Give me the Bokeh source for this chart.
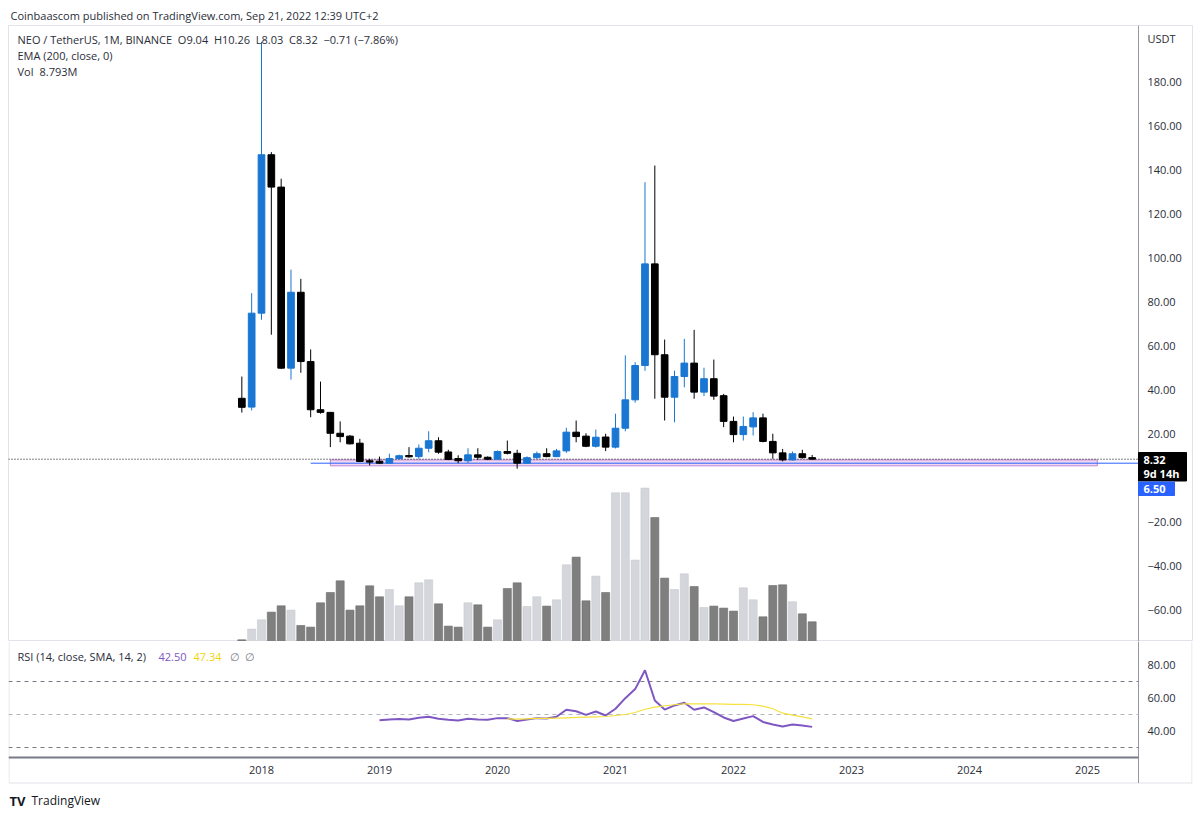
from bokeh.plotting import figure
from bokeh.layouts import column
from bokeh.models import ColumnDataSource, Range1d
from bokeh.core.properties import value
from bokeh.embed import file_html
from bokeh.resources import INLINE

# ---------------- data ----------------
MONTHS = ["2017-11", "2017-12",
          "2018-01", "2018-02", "2018-03", "2018-04", "2018-05", "2018-06",
          "2018-07", "2018-08", "2018-09", "2018-10", "2018-11", "2018-12",
          "2019-01", "2019-02", "2019-03", "2019-04", "2019-05", "2019-06",
          "2019-07", "2019-08", "2019-09", "2019-10", "2019-11", "2019-12",
          "2020-01", "2020-02", "2020-03", "2020-04", "2020-05", "2020-06",
          "2020-07", "2020-08", "2020-09", "2020-10", "2020-11", "2020-12",
          "2021-01", "2021-02", "2021-03", "2021-04", "2021-05", "2021-06",
          "2021-07", "2021-08", "2021-09", "2021-10", "2021-11", "2021-12",
          "2022-01", "2022-02", "2022-03", "2022-04", "2022-05", "2022-06",
          "2022-07", "2022-08", "2022-09"]
OPEN = [36.0, 32.0,
        74.7, 146.7, 132.0, 49.7, 84.2, 52.7, 30.8, 29.6, 20.1, 18.8, 15.6, 7.6,
        7.4, 6.5, 8.6, 10.0, 9.5, 13.3, 16.7, 11.6, 8.6, 7.6, 10.3, 9.2,
        8.3, 11.8, 11.0, 6.5, 9.0, 10.8, 9.5, 12.1, 20.6, 18.8, 14.2, 18.4,
        13.8, 22.4, 35.3, 50.9, 97.1, 55.8, 36.5, 45.9, 52.0, 38.8, 44.9, 37.2,
        25.5, 19.5, 23.0, 27.1, 16.4, 11.2, 8.0, 10.8, 9.04]
HIGH = [45.9, 83.8,
        198.0, 147.9, 135.8, 94.5, 90.3, 58.2, 43.6, 29.8, 25.5, 19.3, 17.6, 8.5,
        9.5, 10.8, 10.4, 13.8, 15.0, 21.0, 18.3, 12.6, 10.1, 13.3, 13.3, 9.6,
        12.3, 16.8, 12.6, 9.6, 11.8, 13.3, 13.0, 22.6, 25.9, 20.1, 21.8, 19.9,
        29.0, 55.5, 52.4, 134.2, 141.8, 62.7, 48.6, 63.0, 67.1, 49.9, 53.6, 38.0,
        27.7, 27.7, 29.7, 29.0, 19.9, 13.0, 11.8, 12.6, 10.26]
LOW = [29.5, 30.5,
       71.7, 64.9, 49.4, 44.5, 47.6, 27.4, 29.0, 13.8, 16.0, 15.0, 7.0, 5.5,
       6.1, 6.3, 8.2, 9.0, 8.5, 11.5, 10.8, 7.9, 6.5, 6.6, 8.0, 7.9,
       8.0, 10.5, 4.0, 6.2, 8.5, 9.2, 9.2, 11.2, 16.0, 13.8, 13.6, 12.0,
       13.2, 21.0, 34.0, 48.5, 35.8, 25.9, 25.1, 41.0, 35.8, 37.0, 35.3, 22.9,
       16.0, 16.8, 19.1, 16.0, 8.5, 7.3, 7.7, 8.6, 8.03]
CLOSE = [31.9, 74.7,
         146.7, 132.0, 49.7, 84.2, 52.7, 30.8, 29.6, 20.1, 18.6, 15.3, 7.3, 7.0,
         6.5, 8.6, 9.9, 9.4, 13.3, 16.7, 11.5, 8.2, 7.6, 10.3, 9.2, 8.3,
         11.8, 11.0, 6.5, 9.0, 10.8, 9.5, 12.1, 20.6, 18.6, 14.2, 18.3, 13.8,
         22.4, 35.3, 50.9, 97.1, 55.8, 36.5, 45.9, 52.0, 38.8, 44.9, 37.0, 25.5,
         19.5, 23.2, 27.1, 16.4, 11.2, 8.0, 10.8, 9.04, 8.32]
VOLUME_M = [0.76, 5.53,
            9.68, 13.11, 15.92, 14.00, 7.14, 6.42, 17.26, 21.85, 27.07, 14.00, 15.92, 24.84,
            19.94, 23.19, 15.92, 19.94, 26.18, 27.52, 16.81, 6.87, 6.42, 17.26, 16.37, 6.42,
            9.68, 23.64, 26.18, 15.61, 19.94, 15.79, 18.60, 34.21, 37.64, 18.15, 29.17, 21.85,
            66.32, 66.32, 36.30, 68.42, 55.30, 28.28, 23.19, 30.19, 24.53, 15.16, 15.79, 14.90,
            13.56, 23.95, 18.60, 11.02, 24.98, 25.29, 17.71, 12.35, 8.79]

RSI_START = "2019-01"
RSI = [46.5, 47.0, 47.2, 47.0, 48.0, 48.6, 47.4, 46.8, 46.3, 47.4, 47.0, 46.8,
       47.8, 47.8, 46.1, 47.0, 47.8, 47.6, 48.6, 52.9, 52.0, 49.8, 51.8, 49.4,
       53.5, 59.9, 65.4, 76.8, 58.5, 53.0, 55.5, 57.1, 52.9, 54.3, 51.4, 48.2,
       46.1, 47.6, 49.0, 45.5, 43.9, 42.7, 43.9, 43.3, 42.5]
RSI_SMA_START = "2020-02"
RSI_SMA = [47.4, 47.2, 47.4, 47.6, 47.6, 47.8, 48.0, 48.2, 48.4, 48.6, 48.8,
           49.4, 50.0, 51.2, 53.2, 54.5, 55.3, 55.9, 56.5, 56.5, 56.5, 56.5, 56.3,
           56.1, 56.1, 55.9, 55.1, 53.5, 50.8, 49.6, 48.6, 47.3]

YEARS = ["2018", "2019", "2020", "2021", "2022", "2023", "2024", "2025"]
PRICE_TICKS = [-60.0, -40.0, -20.0, 20.0, 40.0, 60.0, 80.0, 100.0, 120.0, 140.0, 160.0, 180.0]
RSI_TICKS = [40.0, 60.0, 80.0]
RSI_BANDS = [70.0, 50.0, 30.0]
LAST_PRICE = 8.32
COUNTDOWN = "9d 14h"
SUPPORT_PRICE = 6.50
SUPPORT_START = "2018-06"
ZONE_START, ZONE_END = "2018-08", "2025-02"
ZONE_LOW, ZONE_HIGH = 5.3, 8.0

# ---------------- pixel geometry of the page ----------------
FONT = "Open Sans"
TXT = "#2a2e39"
FRAME = "#e0e3eb"
SCALE_LINE = "#9598a1"
X0_PX, PX_PER_MONTH = 261.0, 9.833     # Jan 2018 centre at x=261
P0_PX, PX_PER_USD = 477.0, 2.2          # price 0 at y=477
R50_PX, PX_PER_RSI = 714.0, 1.65        # rsi 50 at y=714
SCALE_X = 1138                          # left edge of the price scale
LABEL_X = 1147                          # left edge of scale labels
GAP = "\u00a0\u00a0"


def month_index(s):
    y, m = s.split("-")
    return (int(y) - 2018) * 12 + int(m) - 1


def px_x(px):
    return (px - X0_PX) / PX_PER_MONTH


def py_price(py):
    return (P0_PX - py) / PX_PER_USD


def py_rsi(py):
    return 50 - (py - R50_PX) / PX_PER_RSI


def fmt(v):
    return f"{v:.2f}".replace("-", "\u2212")


idx = [month_index(m) for m in MONTHS]
up = [c >= o for o, c in zip(OPEN, CLOSE)]
src = ColumnDataSource(dict(
    x=idx, open=OPEN, high=HIGH, low=LOW, close=CLOSE,
    top=[max(o, c) for o, c in zip(OPEN, CLOSE)],
    bottom=[min(o, c) for o, c in zip(OPEN, CLOSE)],
    color=["#1976d2" if u else "#000000" for u in up],
    vol=VOLUME_M,
    vcolor=["#d4d6db" if u else "#7f7f7f" for u in up],
    vline=["#c8cad0" if u else "#6b6b6b" for u in up],
))

VOL_TOP = 616 / 2.242   # volume overlay: 2.242 px per million, base at pane bottom
XR = Range1d(px_x(8), px_x(1192))


def texts(p, xs, ys, labels, color=TXT, size="11px", align="left", baseline="middle", style="normal"):
    p.text(x=xs, y=ys, text=labels, text_font=value(FONT), text_font_size=size,
           text_color=color, text_align=align, text_baseline=baseline, text_font_style=style)


# ---------------- main pane ----------------
p1 = figure(width=1200, height=641, output_backend="svg", toolbar_location=None,
            x_range=XR, y_range=Range1d(py_price(641), py_price(25)),
            x_axis_location=None, y_axis_location=None,
            min_border_left=8, min_border_right=8, min_border_top=25, min_border_bottom=0,
            title="Coinbaascom published on TradingView.com, Sep 21, 2022 12:39 UTC+2")
p1.grid.visible = False
p1.title.text_font = FONT
p1.title.text_font_size = "11px"
p1.title.text_font_style = "normal"
p1.title.text_color = TXT
p1.title.align = "left"
p1.title.offset = 2
p1.title.standoff = 6
p1.outline_line_color = FRAME
p1.extra_y_ranges = {"vol": Range1d(0, VOL_TOP)}

# volume overlay
p1.vbar(x="x", width=0.82, top="vol", bottom=0, y_range_name="vol", source=src,
        fill_color="vcolor", line_color="vline", line_width=0.6)

# support zone, support ray and last-price line
p1.quad(left=month_index(ZONE_START), right=month_index(ZONE_END), bottom=ZONE_LOW, top=ZONE_HIGH,
        fill_color="#ce93d8", fill_alpha=0.35, line_color="#b36bd0", line_alpha=0.8, line_width=1)
p1.segment(x0=month_index(SUPPORT_START), y0=SUPPORT_PRICE, x1=px_x(SCALE_X), y1=SUPPORT_PRICE,
           line_color="#2962ff", line_width=1)
p1.segment(x0=px_x(8), y0=LAST_PRICE, x1=px_x(SCALE_X), y1=LAST_PRICE,
           line_color="#000000", line_dash="1 2", line_width=1)

# candles
p1.segment(x0="x", y0="low", x1="x", y1="high", line_color="color", line_width=1, source=src)
p1.vbar(x="x", width=0.68, top="top", bottom="bottom", fill_color="color", line_color="color", source=src)

# price scale
p1.segment(x0=px_x(SCALE_X), y0=py_price(641), x1=px_x(SCALE_X), y1=py_price(25),
           line_color=SCALE_LINE, line_width=1)
texts(p1, [px_x(LABEL_X)] * len(PRICE_TICKS), PRICE_TICKS, [fmt(t) for t in PRICE_TICKS])
texts(p1, [px_x(LABEL_X)], [py_price(38)], ["USDT"])

# price-scale tags (last price with countdown, support level)
p1.quad(left=px_x(SCALE_X), right=px_x(1186), top=py_price(452), bottom=py_price(480.5),
        fill_color="#000000", line_color="#000000")
texts(p1, [px_x(1143)] * 2, [py_price(459), py_price(473)], [f"{LAST_PRICE:.2f}", COUNTDOWN],
      color="white", style="bold")
p1.quad(left=px_x(SCALE_X), right=px_x(1174), top=py_price(481.5), bottom=py_price(495),
        fill_color="#2962ff", line_color="#2962ff")
texts(p1, [px_x(1143)], [py_price(488.5)], [f"{SUPPORT_PRICE:.2f}"], color="white", style="bold")

# legend of the main pane
texts(p1, [px_x(17)], [py_price(39)],
      [GAP.join(["NEO / TetherUS, 1M, BINANCE", "O9.04", "H10.26", "L8.03", "C8.32",
                 "\u22120.71 (\u22127.86%)"])])
texts(p1, [px_x(17)], [py_price(55)], ["EMA (200, close, 0)"])
texts(p1, [px_x(17), px_x(39)], [py_price(71)] * 2, ["Vol", "8.793M"])

# ---------------- RSI pane, time scale and footer ----------------
p2 = figure(width=1200, height=175, output_backend="svg", toolbar_location=None,
            x_range=XR, y_range=Range1d(py_rsi(816), py_rsi(641)),
            x_axis_location=None, y_axis_location=None,
            min_border_left=8, min_border_right=8, min_border_top=0, min_border_bottom=0)
p2.grid.visible = False
p2.outline_line_color = None

# frame lines of the lower part
p2.segment(x0=[px_x(8.5), px_x(1191.5), px_x(8)], y0=[py_rsi(641), py_rsi(641), py_rsi(782.5)],
           x1=[px_x(8.5), px_x(1191.5), px_x(1192)], y1=[py_rsi(782.5), py_rsi(782.5), py_rsi(782.5)],
           line_color=FRAME, line_width=1)
p2.segment(x0=px_x(SCALE_X), y0=py_rsi(641), x1=px_x(SCALE_X), y1=py_rsi(782.5),
           line_color=SCALE_LINE, line_width=1)
p2.segment(x0=px_x(8), y0=py_rsi(757), x1=px_x(SCALE_X), y1=py_rsi(757),
           line_color="#787b86", line_width=2)

# RSI bands
p2.segment(x0=[px_x(8)] * 3, y0=RSI_BANDS, x1=[px_x(SCALE_X)] * 3, y1=RSI_BANDS,
           line_color=["#787b86", "#b2b5be", "#787b86"], line_dash="4 4", line_width=1)

r0 = month_index(RSI_START)
p2.line([r0 + i for i in range(len(RSI))], RSI, line_color="#7e57c2", line_width=2)
s0 = month_index(RSI_SMA_START)
p2.line([s0 + i for i in range(len(RSI_SMA))], RSI_SMA, line_color="#f5e13b", line_width=1.2)

texts(p2, [px_x(LABEL_X)] * len(RSI_TICKS), RSI_TICKS, [fmt(t) for t in RSI_TICKS])

# time scale
texts(p2, [float(i * 12) for i in range(len(YEARS))], [py_rsi(769)] * len(YEARS), YEARS, align="center")

# RSI legend
texts(p2, [px_x(17)], [py_rsi(656)], ["RSI (14, close, SMA, 14, 2)"])
texts(p2, [px_x(158)], [py_rsi(656)], [f"{RSI[-1]:.2f}"], color="#7e57c2")
texts(p2, [px_x(193)], [py_rsi(656)], ["47.34"], color="#f2d40c")
texts(p2, [px_x(229), px_x(244)], [py_rsi(656)] * 2, ["\u2205", "\u2205"], color="#787b86")

# footer
texts(p2, [px_x(9)], [py_rsi(800)], ["TV"], color="#131722", size="13px", style="bold")
texts(p2, [px_x(31)], [py_rsi(800)], ["TradingView"], color="#131722", size="12px")

layout = column(p1, p2)
open("out.html", "w").write(file_html(layout, INLINE))
